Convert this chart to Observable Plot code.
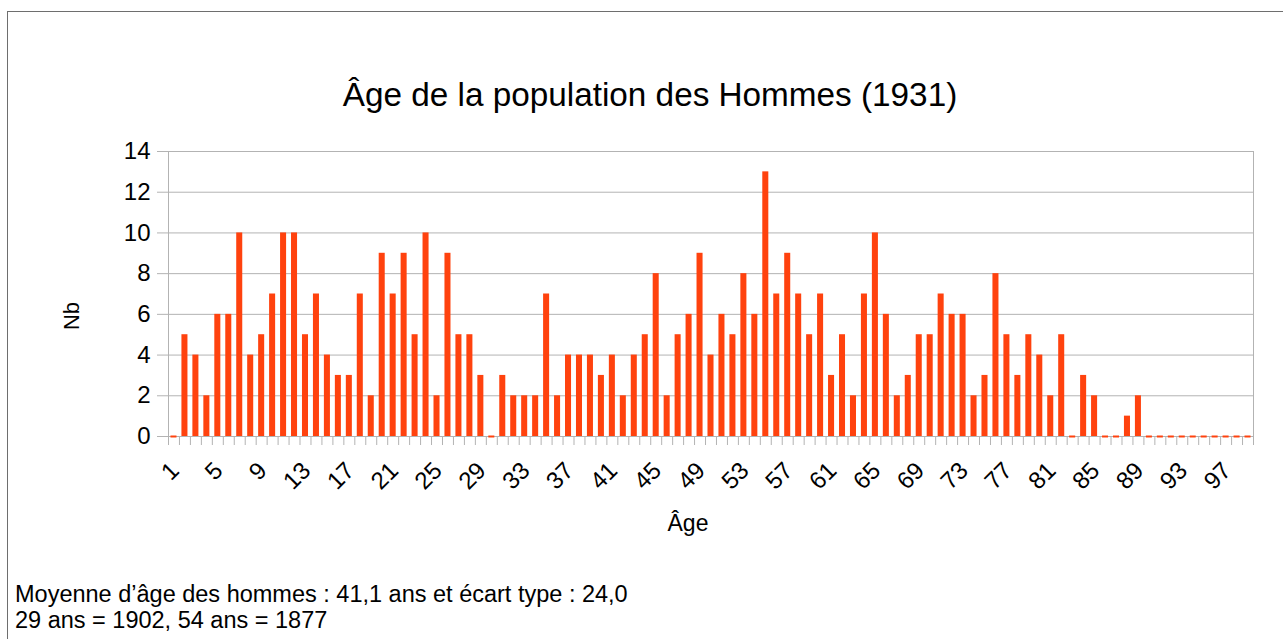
<!DOCTYPE html>
<html>
<head>
<meta charset="utf-8">
<script src="https://cdn.jsdelivr.net/npm/d3@7"></script>
<script src="https://cdn.jsdelivr.net/npm/@observablehq/plot@0.6"></script>
<style>
  body { margin: 0; background: #fff; font-family: "Liberation Sans", Arial, sans-serif; color: #000; }
  #wrap { position: relative; width: 1283px; height: 639px; overflow: hidden; background: #fff; }
  #border { position: absolute; left: 7px; top: 11px; width: 1400px; height: 800px;
            border-left: 1px solid #6e6e6e; border-top: 1px solid #6e6e6e; }
  #chart { position: absolute; left: 0; top: 0; }
  #title { position: absolute; left: 7px; width: 1286px; top: 78px; text-align: center;
           font-size: 33.3px; line-height: 33px; white-space: nowrap; }
  #xlabel { position: absolute; left: 588px; width: 200px; top: 512px; text-align: center;
            font-size: 23px; line-height: 23px; }
  #ylabel { position: absolute; left: 22px; width: 100px; top: 305px; text-align: center;
            font-size: 22px; line-height: 22px; transform: rotate(-90deg); transform-origin: 50% 50%; }
  #caption { position: absolute; left: 15px; top: 581px; font-size: 23.5px; line-height: 26.3px; white-space: nowrap; }
</style>
</head>
<body>
<div id="wrap">
  <div id="border"></div>
  <div id="chart"></div>
  <div id="title">Âge de la population des Hommes (1931)</div>
  <div id="ylabel">Nb</div>
  <div id="xlabel">Âge</div>
  <div id="caption">Moyenne d’âge des hommes : 41,1 ans et écart type : 24,0<br>29 ans = 1902, 54 ans = 1877</div>
</div>
<script>
// Categories: age
const ages = [
  1, 2, 3, 4, 5, 6, 7, 8, 9, 10,
  11, 12, 13, 14, 15, 16, 17, 18, 19, 20,
  21, 22, 23, 24, 25, 26, 27, 28, 29, 30,
  31, 32, 33, 34, 35, 36, 37, 38, 39, 40,
  41, 42, 43, 44, 45, 46, 47, 48, 49, 50,
  51, 52, 53, 54, 55, 56, 57, 58, 59, 60,
  61, 62, 63, 64, 65, 66, 67, 68, 69, 70,
  71, 72, 73, 74, 75, 76, 77, 78, 79, 80,
  81, 82, 83, 84, 85, 86, 87, 88, 89, 90,
  91, 92, 93, 94, 95, 96, 97, 98, 99
];
// Series: number of men per age (Nb)
const counts = [
  0, 5, 4, 2, 6, 6, 10, 4, 5, 7,
  10, 10, 5, 7, 4, 3, 3, 7, 2, 9,
  7, 9, 5, 10, 2, 9, 5, 5, 3, 0,
  3, 2, 2, 2, 7, 2, 4, 4, 4, 3,
  4, 2, 4, 5, 8, 2, 5, 6, 9, 4,
  6, 5, 8, 6, 13, 7, 9, 7, 5, 7,
  3, 5, 2, 7, 10, 6, 2, 3, 5, 5,
  7, 6, 6, 2, 3, 8, 5, 3, 5, 4,
  2, 5, 0, 3, 2, 0, 0, 1, 2, 0,
  0, 0, 0, 0, 0, 0, 0, 0, 0
];
// Tick labels
const xTickLabels = [1, 5, 9, 13, 17, 21, 25, 29, 33, 37, 41, 45, 49, 53, 57, 61, 65, 69, 73, 77, 81, 85, 89, 93, 97];
const yTicks = [0, 2, 4, 6, 8, 10, 12, 14];

const data = ages.map((a, i) => ({age: a, n: counts[i]}));

const W = 1283, H = 560, mL = 168, mR = 30, mT = 151, mB = H - 436;
const step = (W - mL - mR) / ages.length;
const barColor = "#ff420e";
const gridColor = "#b3b3b3";

const chart = Plot.plot({
  width: W,
  height: H,
  marginLeft: mL,
  marginRight: mR,
  marginTop: mT,
  marginBottom: mB,
  style: {fontFamily: "'Liberation Sans', Arial, sans-serif", background: "transparent", color: "#000", overflow: "visible"},
  x: {type: "band", domain: ages, paddingInner: 0.45, paddingOuter: 0.225, label: null},
  y: {domain: [0, 14], label: null},
  marks: [
    Plot.ruleY(yTicks, {stroke: gridColor, insetLeft: -11}),
    Plot.frame({stroke: gridColor}),
    Plot.axisY({ticks: yTicks, tickSize: 0, tickPadding: 18, fontSize: 24, label: null}),
    Plot.barY(data, {x: "age", y: "n", fill: barColor}),
    Plot.tickY(data.filter(d => d.n === 0), {x: "age", y: "n", stroke: barColor, strokeWidth: 2}),
    Plot.axisX({ticks: ages, tickSize: 9, tickFormat: () => "", dx: -step / 2, stroke: gridColor, label: null}),
    Plot.axisX({ticks: [ages[ages.length - 1]], tickSize: 9, tickFormat: () => "", dx: step / 2, stroke: gridColor, label: null}),
    Plot.axisX({ticks: xTickLabels, tickSize: 0, tickRotate: -45, tickPadding: 30, dx: 1, fontSize: 24, label: null})
  ]
});
document.getElementById("chart").appendChild(chart);
</script>
</body>
</html>
